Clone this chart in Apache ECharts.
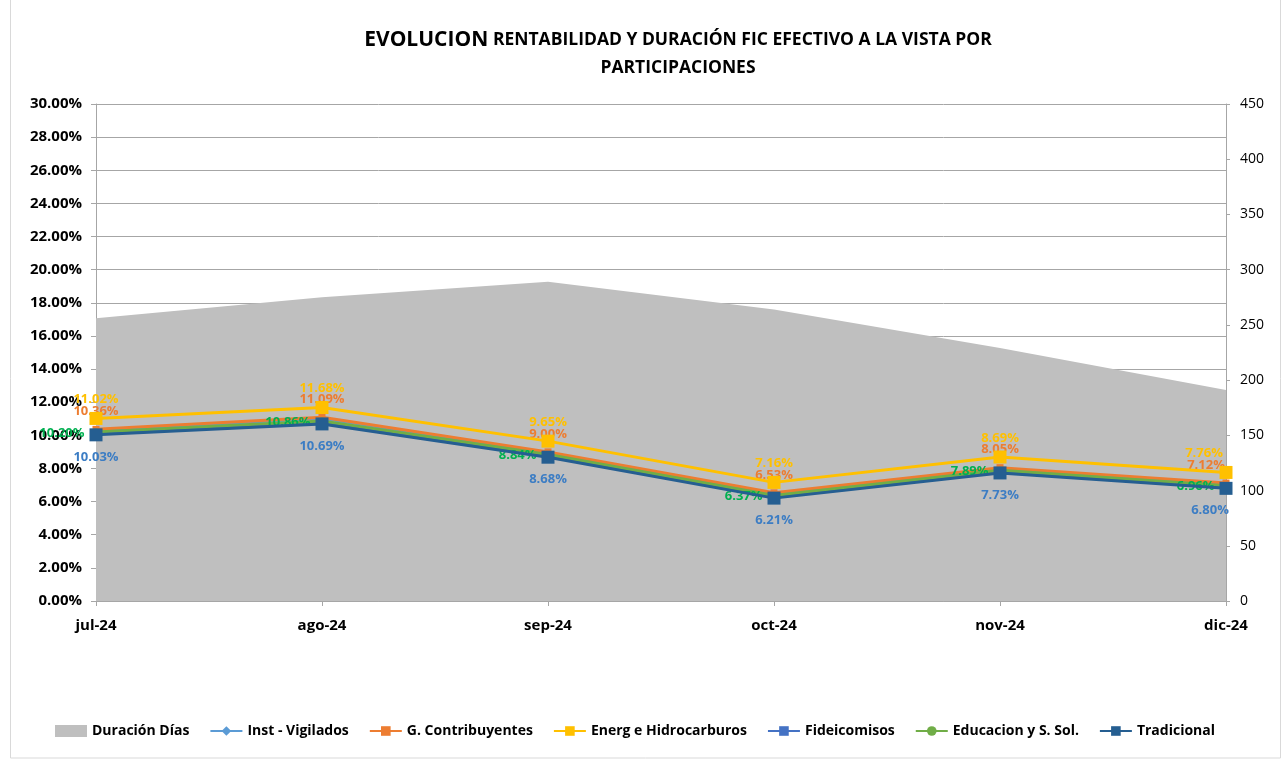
<!DOCTYPE html>
<html>
<head>
<meta charset="utf-8">
<title>Evolucion rentabilidad</title>
<script src="https://cdn.jsdelivr.net/npm/echarts@6/dist/echarts.min.js"></script>
<style>
  html, body { margin: 0; padding: 0; background: #fff; }
  #chart { width: 1287px; height: 761px; }
</style>
</head>
<body>
<div id="chart"></div>
<script>
// datos
const meses = ['jul-24', 'ago-24', 'sep-24', 'oct-24', 'nov-24', 'dic-24'];
const duracionDias = [256, 275, 289, 264, 229, 191];
const instVigilados = [10.30, 11.03, 8.94, 6.47, 7.99, 7.06];
const gContribuyentes = [10.36, 11.09, 9.00, 6.53, 8.05, 7.12];
const energHidrocarburos = [11.02, 11.68, 9.65, 7.16, 8.69, 7.76];
const fideicomisos = [10.10, 10.76, 8.75, 6.28, 7.80, 6.87];
const educacionSol = [10.20, 10.86, 8.84, 6.37, 7.89, 6.96];
const tradicional = [10.03, 10.69, 8.68, 6.21, 7.73, 6.80];
const ticksPct = [0, 30, 2];
const ticksDias = [0, 450, 50];

const FONT = '"Liberation Sans Narrow", "Open Sans", sans-serif';

const chart = echarts.init(document.getElementById('chart'));

const pctLabel = (color, position, distance) => ({
  show: true,
  position: position,
  distance: distance,
  color: color,
  fontFamily: FONT,
  fontWeight: 'bold',
  fontSize: 13,
  formatter: (p) => {
    const v = typeof p.value === 'object' && p.value !== null ? p.value.value : p.value;
    return Number(v).toFixed(2) + '%';
  }
});

// ultimo punto (dic) con etiqueta desplazada a la izquierda
const conOffset = (arr, offset) => arr.map((v, i) => i === arr.length - 1
  ? { value: v, label: { offset: offset } }
  : v);

const lineBase = (name, color, data, symbol, size, z) => ({
  name: name,
  type: 'line',
  yAxisIndex: 0,
  data: data,
  symbol: symbol,
  symbolSize: size,
  z: z,
  lineStyle: { color: color, width: 3 },
  itemStyle: { color: color },
  emphasis: { disabled: true }
});

const option = {
  animation: false,
  backgroundColor: '#ffffff',
  textStyle: { fontFamily: FONT },
  title: {
    left: 673,
    top: 21,
    textAlign: 'center',
    text: '{a|EVOLUCION} {b|RENTABILIDAD Y DURACIÓN FIC EFECTIVO A LA VISTA POR}\n{b|PARTICIPACIONES}',
    textStyle: {
      rich: {
        a: { fontFamily: FONT, fontWeight: 'bold', fontSize: 21, color: '#000', lineHeight: 28 },
        b: { fontFamily: FONT, fontWeight: 'bold', fontSize: 17.5, color: '#000', lineHeight: 28 }
      }
    }
  },
  graphic: [{
    type: 'rect',
    shape: { x: 10.5, y: -2, width: 1270, height: 760 },
    style: { fill: 'none', stroke: '#d9d9d9', lineWidth: 1 },
    silent: true
  }],
  legend: {
    bottom: 18,
    left: 50,
    itemGap: 20,
    itemWidth: 32,
    itemHeight: 12,
    textStyle: { fontFamily: FONT, fontWeight: 'bold', fontSize: 14, color: '#000' },
    data: [
      { name: 'Duración Días', icon: 'rect' },
      'Inst - Vigilados', 'G. Contribuyentes', 'Energ e Hidrocarburos',
      'Fideicomisos', 'Educacion y S. Sol.', 'Tradicional'
    ]
  },
  grid: { left: 96, right: 61, top: 104, bottom: 160 },
  xAxis: {
    type: 'category',
    data: meses,
    boundaryGap: false,
    axisLine: { lineStyle: { color: '#a6a6a6', width: 1 } },
    axisTick: { show: true, alignWithLabel: true, length: 5, lineStyle: { color: '#a6a6a6' } },
    axisLabel: { color: '#000', fontFamily: FONT, fontWeight: 'bold', fontSize: 15, margin: 17 },
    splitLine: { show: false }
  },
  yAxis: [
    {
      type: 'value',
      min: ticksPct[0],
      max: ticksPct[1],
      interval: ticksPct[2],
      axisLine: { show: true, lineStyle: { color: '#a6a6a6' } },
      axisTick: { show: true, length: 5, lineStyle: { color: '#a6a6a6' } },
      axisLabel: {
        color: '#000', fontFamily: FONT, fontWeight: 'bold', fontSize: 15, margin: 14,
        formatter: (v) => v.toFixed(2) + '%'
      },
      splitLine: { show: true, lineStyle: { color: '#a6a6a6', width: 1 } }
    },
    {
      type: 'value',
      min: ticksDias[0],
      max: ticksDias[1],
      interval: ticksDias[2],
      position: 'right',
      axisLine: { show: true, lineStyle: { color: '#a6a6a6' } },
      axisTick: { show: true, length: 4, lineStyle: { color: '#a6a6a6' } },
      axisLabel: { color: '#000', fontFamily: FONT, fontSize: 14, margin: 14 },
      splitLine: { show: false }
    }
  ],
  series: [
    {
      name: 'Duración Días',
      type: 'line',
      yAxisIndex: 1,
      data: duracionDias,
      symbol: 'none',
      z: 1,
      lineStyle: { width: 0, color: '#bfbfbf' },
      itemStyle: { color: '#bfbfbf' },
      areaStyle: { color: '#bfbfbf', opacity: 1 },
      emphasis: { disabled: true }
    },
    lineBase('Inst - Vigilados', '#5b9bd5', instVigilados, 'diamond', 8, 3),
    Object.assign(lineBase('G. Contribuyentes', '#ed7d31', conOffset(gContribuyentes, [-20, 0]), 'rect', 7, 4), {
      label: pctLabel('#ed7d31', 'top', 8)
    }),
    Object.assign(lineBase('Energ e Hidrocarburos', '#ffc000', conOffset(energHidrocarburos, [-22, 0]), 'rect', 13, 5), {
      label: pctLabel('#ffc000', 'top', 6)
    }),
    lineBase('Fideicomisos', '#4472c4', fideicomisos, 'rect', 7, 6),
    Object.assign(lineBase('Educacion y S. Sol.', '#70ad47', educacionSol, 'circle', 7, 7), {
      label: Object.assign(pctLabel('#00b050', 'left', 8), { offset: [0, 1] })
    }),
    Object.assign(lineBase('Tradicional', '#255e91', conOffset(tradicional, [-16, 0]), 'rect', 13, 8), {
      label: pctLabel('#3c7dc4', 'bottom', 9)
    })
  ]
};

chart.setOption(option);
window.addEventListener('resize', () => chart.resize());
</script>
</body>
</html>
